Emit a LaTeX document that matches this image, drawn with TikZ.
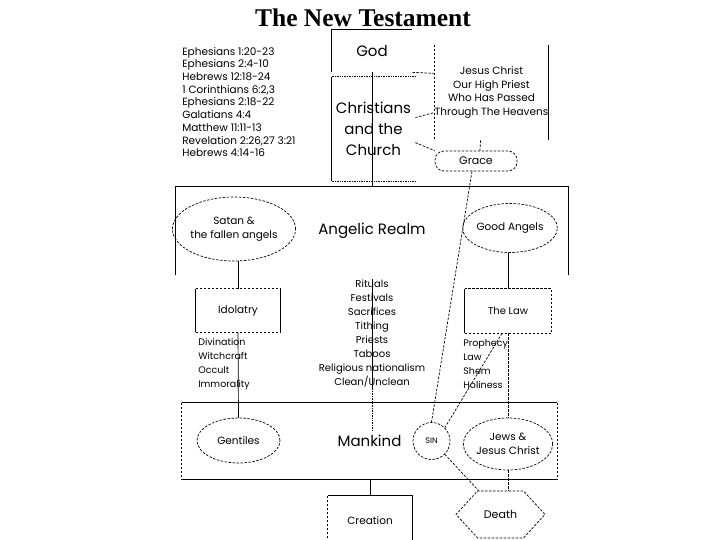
\documentclass[tikz,border=0pt]{standalone}
\usepackage{fontspec}
\setmainfont{Poppins}
\newfontfamily\titlefont{Liberation Serif}
\usetikzlibrary{shapes.geometric,shapes.symbols,calc}

\begin{document}
\begin{tikzpicture}[x=1pt, y=-1pt, line width=0.7pt,
    font=\fontsize{10}{14}\selectfont,
    brk/.style={dash pattern=on 2.5pt off 1.5pt},
    big/.style={font=\fontsize{15}{21}\selectfont},
    plain/.style={inner sep=0pt, align=center},
    oval/.style={draw, brk, ellipse, inner sep=0pt, align=center, font=\fontsize{10.5}{14}\selectfont},
    lst/.style={inner sep=0pt, align=left, anchor=west, font=\fontsize{9.5}{14}\selectfont}]
  \useasboundingbox (0,0) rectangle (720,540);

  \node[anchor=base, font=\titlefont\bfseries\fontsize{25.5}{27}\selectfont] (title) at (363,27) {The New Testament};

  % heavenly places
  \node[lst, font=\fontsize{10.5}{12.7}\selectfont] (verses) at (182,102) {Ephesians 1:20-23\\Ephesians 2:4-10\\Hebrews 12:18-24\\1 Corinthians 6:2,3\\Ephesians 2:18-22\\Galatians 4:4\\Matthew 11:11-13\\Revelation 2:26,27 3:21\\Hebrews 4:14-16};
  \node[plain, big, minimum width=80, minimum height=42] (god) at (372,51) {God};
  \node[plain, big, minimum width=83, minimum height=104] (church) at (373.5,129) {Christians\\and the\\Church};
  \node[plain, minimum width=113, minimum height=95, font=\fontsize{10.5}{13.7}\selectfont] (jesus) at (491.5,92.5) {Jesus Christ\\Our High Priest\\Who Has Passed\\Through The Heavens};
  \node[draw, brk, rounded corners=9pt, minimum width=82, minimum height=20, inner sep=0pt, font=\fontsize{11}{12}\selectfont] (grace) at (476,161) {Grace};
  \draw (god.south west) -- (god.north west) -- (god.north east);
  \draw[densely dotted] (church.north west) -- (church.north east);
  \draw (church.north west) -- (church.south west);
  \draw[densely dotted] (church.south west) -- (church.south east);
  \draw[brk] (jesus.north west) -- (jesus.south west);
  \draw (jesus.north east) -- (jesus.south east);

  % angelic realm
  \node[plain, big, minimum width=392, minimum height=88] (realm) at (372,231) {Angelic Realm};
  \draw (realm.south west) -- (realm.north west) -- (realm.north east) -- (realm.south east);
  \node[oval, minimum width=113, minimum height=64] (satan) at (234,229) {Satan \&\\the fallen angels};
  \node[oval, minimum width=84, minimum height=49] (good) at (510,228) {Good Angels};

  % idolatry and the law
  \node[plain, minimum width=84, minimum height=43, font=\fontsize{10.5}{14}\selectfont] (idol) at (238,310.5) {Idolatry};
  \draw (idol.north west) -- (idol.south west) (idol.north east) -- (idol.south east);
  \draw[brk] (idol.north west) -- (idol.north east) (idol.south west) -- (idol.south east);
  \node[plain, minimum width=86, minimum height=44] (law) at (508,311) {The Law};
  \draw (law.north west) -- (law.south west);
  \draw[brk] (law.south west) -- (law.south east) -- (law.north east) -- (law.north west);
  \node[lst] (occult) at (198,364.5) {Divination\\Witchcraft\\Occult\\Immorality};
  \node[lst] (holiness) at (463,364.5) {Prophecy\\Law\\Shem\\Holiness};
  \node[plain] (rituals) at (372,333.5) {Rituals\\Festivals\\Sacrifices\\Tithing\\Priests\\Taboos\\Religious nationalism\\Clean/Unclean};

  % mankind
  \node[plain, minimum width=375, minimum height=76] (mankind) at (369.5,441) {};
  \node[big] (mankindlbl) at (369.5,441) {Mankind};
  \draw (mankind.north west) -- (mankind.north east) (mankind.south west) -- (mankind.south east);
  \draw[brk] (mankind.north west) -- (mankind.south west) (mankind.north east) -- (mankind.south east);
  \node[oval, minimum width=83, minimum height=45] (gentiles) at (238.5,440.5) {Gentiles};
  \node[draw, brk, circle, minimum size=37, inner sep=0pt, font=\fontsize{8}{9}\selectfont] (sin) at (431.5,441) {SIN};
  \node[oval, minimum width=85, minimum height=52] (jews) at (508,444) {Jews \&\\Jesus Christ};
  \node[plain, minimum width=84, minimum height=50, font=\fontsize{10.5}{14}\selectfont] (creation) at (370,521) {Creation};
  \draw[brk] (creation.south west) -- (creation.north west);
  \draw (creation.north west) -- (creation.north east) -- (creation.south east);
  \node[draw, brk, signal, signal to=east and west, signal pointer angle=95, minimum width=89, minimum height=47, inner sep=0pt, font=\fontsize{11}{12}\selectfont] (death) at (500.5,514.5) {Death};

  % links
  \draw (god.south) -- (god.south |- realm.north);
  \draw[brk] (god.south east) -- ($(jesus.north west)!0.3!(jesus.south west)$);
  \draw[brk] ($(church.north east)!0.39!(church.south east)$) -- ($(jesus.north west)!0.71!(jesus.south west)$);
  \draw[brk] ($(church.north east)!0.63!(church.south east)$) -- (grace.north west);
  \draw[brk] ($(jesus.south)+(-11,0)$) -- ($(grace.north)+(4,0)$);
  \draw[brk] ($(grace.south)+(-4,0)$) -- (sin.north);
  \draw (satan.south -| idol.north) -- (idol.north);
  \draw (good.south -| law.north) -- (law.north);
  \draw (idol.south) -- (gentiles.north);
  \draw[brk] (law.south) -- (jews.north);
  \draw[brk] ($(law.south)+(-6,0)$) -- (sin.north east);
  \draw (rituals.north) -- (rituals.south);
  \draw[densely dotted] (rituals.south) -- (rituals.south |- mankindlbl.north);
  \draw (mankind.south -| creation.north) -- (creation.north);
  \draw[brk] (sin.south east) -- ($(death.north)+(-22,0)$);
  \draw[brk] (jews.south) -- (jews.south |- death.north);
\end{tikzpicture}
\end{document}
